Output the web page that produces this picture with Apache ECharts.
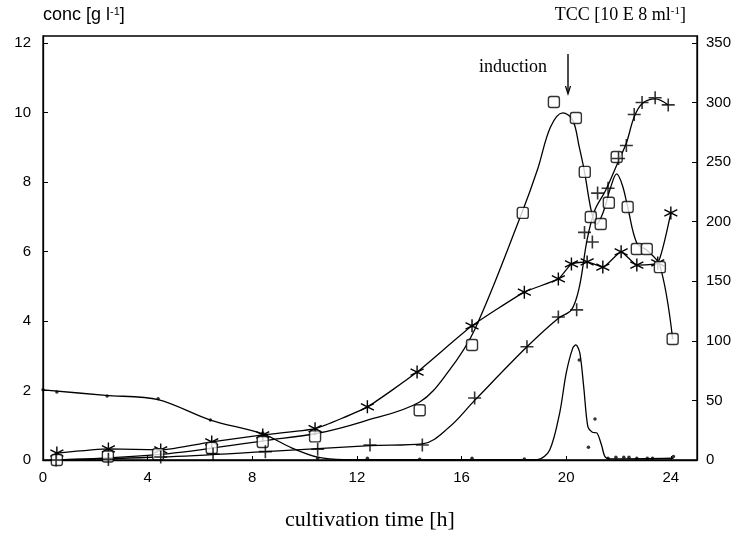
<!DOCTYPE html>
<html>
<head>
<meta charset="utf-8">
<script src="https://cdn.jsdelivr.net/npm/echarts@6/dist/echarts.min.js"></script>
<style>html,body{margin:0;padding:0;background:#fff}#c{width:742px;height:538px}</style>
</head>
<body>
<div id="c"></div>
<script>
// tick labels
const xTicks = [0, 4, 8, 12, 16, 20, 24];
const leftTicks = [0, 2, 4, 6, 8, 10, 12];
const rightTicks = [0, 50, 100, 150, 200, 250, 300, 350];

// squares: measured points [h, g/l]
const squarePts = [[0.53,0.0],[2.48,0.1],[4.4,0.17],[6.45,0.35],[8.4,0.52],[10.4,0.68],[14.4,1.43],[16.4,3.31],[18.34,7.11],[19.53,10.3],[20.37,9.84],[20.71,8.29],[20.94,6.99],[21.32,6.79],[21.63,7.4],[21.93,8.72],[22.35,7.28],[22.7,6.07],[23.08,6.07],[23.58,5.55],[24.07,3.48]];
// squares: fitted curve as drawn [h, g/l]
const squareCurve = [[0.5,0.0],[4.5,0.16],[8.5,0.56],[10.5,0.77],[12.2,1.1],[14.4,1.67],[15.5,2.55],[16.5,3.75],[18.3,7.1],[18.9,8.35],[19.4,9.58],[19.87,9.99],[20.25,9.78],[20.5,9.0],[20.7,8.29],[20.95,7.2],[21.15,6.78],[21.4,7.1],[21.7,7.85],[21.93,8.23],[22.15,7.9],[22.35,7.28],[22.7,6.24],[23.08,6.04],[23.58,5.6],[24.07,3.48]];

// plus: total cell count, measured points [h, 10E8/ml]
const plusPts = [[0.5,0],[2.5,0.5],[4.5,2.5],[6.5,5],[8.5,7],[10.5,9],[12.5,12.6],[14.5,12.6],[16.5,52],[18.5,95],[19.7,120],[20.4,126],[20.7,191],[21.0,183],[21.2,224],[21.6,228],[22.0,253],[22.3,264],[22.6,290],[22.9,300],[23.4,304],[23.9,298]];
// plus: curve as drawn
const plusCurve = [[0.5,0],[4.5,2.5],[8.5,7],[12.5,12],[14.5,13.5],[15.5,27],[16.5,50],[18.5,95],[19.7,119],[20.2,126],[20.5,145],[20.8,185],[21.1,210],[21.5,226],[22.0,251],[22.3,266],[22.6,288],[22.9,299],[23.4,303],[23.9,298]];

// asterisk [h, g/l]
const starPts = [[0.53,0.2],[2.5,0.32],[4.5,0.29],[6.45,0.52],[8.4,0.72],[10.4,0.9],[12.4,1.53],[14.3,2.53],[16.4,3.86],[18.4,4.83],[19.7,5.21],[20.2,5.64],[20.8,5.7],[21.4,5.55],[22.1,5.99],[22.7,5.61],[23.5,5.67],[24.0,7.11]];

// dots [h, g/l]
const dotPts = [[0,2.02],[0.53,1.96],[2.45,1.84],[4.4,1.76],[6.4,1.15],[8.4,0.78],[10.5,0.05],[12.4,0.05],[14.4,0.02],[16.4,0.05],[18.4,0.03],[20.5,2.88],[20.85,0.37],[21.1,1.18],[21.6,0.05],[21.9,0.08],[22.2,0.08],[22.4,0.08],[22.7,0.05],[23.1,0.05],[23.3,0.05],[24.1,0.1]];
const dotCurve = [[0,2.02],[2.4,1.86],[4.4,1.74],[6.4,1.15],[8.4,0.75],[9.5,0.35],[10.5,0.08],[11.5,0.01],[18.9,0.01],[19.37,0.29],[19.75,1.35],[20.0,2.5],[20.25,3.22],[20.37,3.31],[20.52,3.08],[20.67,2.1],[20.83,0.95],[21.0,0.8],[21.17,0.78],[21.35,0.43],[21.5,0.08],[21.8,0.03],[24.1,0.05]];

const SQ = 'path://M2,0H8Q10,0 10,2V8Q10,10 8,10H2Q0,10 0,8V2Q0,0 2,0Z';
const PLUS = 'path://M0,5H10M5,0V10';
const STAR = 'path://M5,0V10M0.7,2.5L9.3,7.5M0.7,7.5L9.3,2.5';
const K = '#000';
const LMAX = 12.2, RMAX = 350 * 12.2 / 12;

const chart = echarts.init(document.getElementById('c'));
chart.setOption({
  animation: false,
  backgroundColor: '#fff',
  grid: {left: 43, right: 45, top: 36, bottom: 78, show: true, borderColor: K, borderWidth: 1.3, backgroundColor: 'transparent'},
  xAxis: {
    type: 'value', min: 0, max: 25, interval: 4,
    axisLine: {lineStyle: {color: K, width: 1.3}},
    axisTick: {inside: true, length: 4, lineStyle: {color: K}},
    axisLabel: {color: K, fontFamily: 'Liberation Sans', fontSize: 15, margin: 10, showMaxLabel: false,
      formatter: v => xTicks.includes(v) ? String(v) : ''},
    splitLine: {show: false}
  },
  yAxis: [{
    type: 'value', min: 0, max: LMAX, interval: 2,
    axisLine: {show: true, lineStyle: {color: K, width: 1.3}},
    axisTick: {inside: true, length: 5, lineStyle: {color: K}},
    axisLabel: {color: K, fontFamily: 'Liberation Sans', fontSize: 15, margin: 12, showMaxLabel: false,
      formatter: v => leftTicks.includes(v) ? String(v) : ''},
    splitLine: {show: false}
  }, {
    type: 'value', min: 0, max: RMAX, interval: 50, position: 'right',
    axisLine: {show: true, lineStyle: {color: K, width: 1.3}},
    axisTick: {show: true, inside: true, length: 5, lineStyle: {color: K}},
    axisLabel: {color: K, fontFamily: 'Liberation Sans', fontSize: 15, margin: 9, showMaxLabel: false,
      formatter: v => rightTicks.includes(v) ? String(v) : ''},
    splitLine: {show: false}
  }],
  series: [
    {type: 'line', data: squareCurve, smooth: 0.35, showSymbol: false, lineStyle: {color: K, width: 1.3}, z: 2},
    {type: 'scatter', data: squarePts, symbol: SQ, symbolSize: 11, itemStyle: {color: '#fff', borderColor: K, borderWidth: 1.4}, z: 4},
    {type: 'line', data: plusCurve, yAxisIndex: 1, smooth: 0.35, showSymbol: false, lineStyle: {color: K, width: 1.3}, z: 2},
    {type: 'scatter', data: plusPts, yAxisIndex: 1, symbol: PLUS, symbolSize: 13,
      itemStyle: {color: 'none', borderColor: K, borderWidth: 1.6}, z: 5},
    {type: 'line', data: starPts, smooth: 0.15, symbol: STAR, symbolSize: 13, showAllSymbol: true,
      lineStyle: {color: K, width: 1.3}, itemStyle: {color: 'none', borderColor: K, borderWidth: 1.4}, z: 3},
    {type: 'line', data: dotCurve, smooth: 0.3, showSymbol: false, lineStyle: {color: K, width: 1.3}, z: 2},
    {type: 'scatter', data: dotPts, symbol: 'circle', symbolSize: 3.5, itemStyle: {color: K}, z: 4}
  ],
  graphic: [
    {type: 'text', left: 43, top: 6, style: {
      text: '{a|conc [g l}{s|-1}{a|]}',
      rich: {a: {fontFamily: 'Liberation Sans', fontSize: 18, fill: K}, s: {fontFamily: 'Liberation Sans', fontSize: 11, fill: K, verticalAlign: 'top', padding: [0,0,8,0]}}
    }},
    {type: 'text', right: 56, top: 6, style: {
      text: '{a|TCC [10 E 8 ml}{s|-1}{a|]}',
      rich: {a: {fontFamily: 'Liberation Serif', fontSize: 18, fill: K}, s: {fontFamily: 'Liberation Serif', fontSize: 11, fill: K, verticalAlign: 'top', padding: [0,0,8,0]}}
    }},
    {type: 'text', x: 547, y: 67, style: {text: 'induction', fontFamily: 'Liberation Serif', fontSize: 18, fill: K, align: 'right', verticalAlign: 'middle'}},
    {type: 'line', shape: {x1: 568, y1: 54, x2: 568, y2: 93}, style: {stroke: K, lineWidth: 1.4}},
    {type: 'polyline', shape: {points: [[565.5, 86], [568, 94], [570.5, 86]]}, style: {stroke: K, lineWidth: 1.2, fill: 'none'}},
    {type: 'text', x: 370, y: 520, style: {text: 'cultivation time [h]', fontFamily: 'Liberation Serif', fontSize: 22, fill: K, align: 'center', verticalAlign: 'middle'}}
  ]
});
</script>
</body>
</html>
